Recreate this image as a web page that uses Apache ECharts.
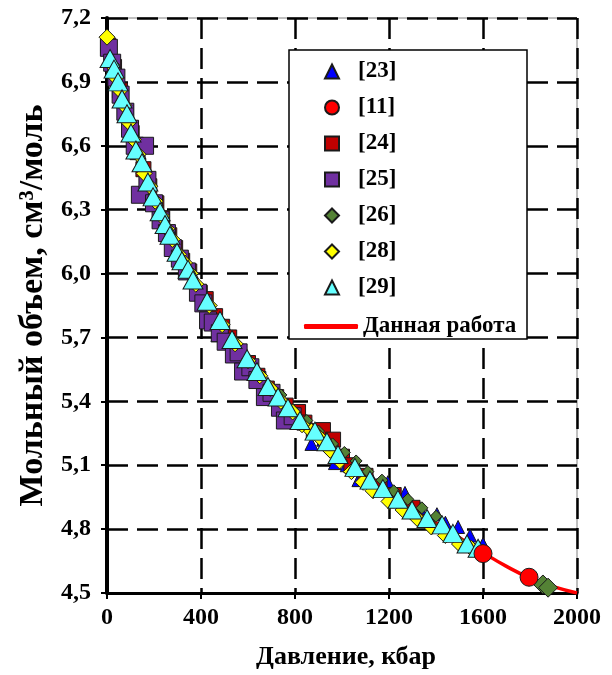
<!DOCTYPE html>
<html><head><meta charset="utf-8">
<script src="https://cdn.jsdelivr.net/npm/echarts@6/dist/echarts.min.js"></script>
<style>html,body{margin:0;padding:0;background:#fff}#c{width:612px;height:675px}</style>
</head><body><div id="c"></div>
<script>
// ---- axis ticks ----
const xTicks = [0, 400, 800, 1200, 1600, 2000];
const yTicks = [4.5, 4.8, 5.1, 5.4, 5.7, 6.0, 6.3, 6.6, 6.9, 7.2];

// ---- series names ----
const names = ['[23]', '[11]', '[24]', '[25]', '[26]', '[28]', '[29]', 'Данная работа'];

// [23] blue triangles
const s23P = [0, 470, 870, 920, 970, 1020, 1070, 1120, 1195, 1268, 1330, 1404, 1440, 1494, 1545, 1600];
const s23V = [7.08, 5.71, 5.20, 5.22, 5.11, 5.10, 5.03, 5.05, 5.02, 4.97, 4.90, 4.87, 4.83, 4.81, 4.77, 4.73];

// [11] red circles
const s11P = [1600, 1796];
const s11V = [4.685, 4.574];

// [24] dark red squares
const s24P = [5, 30, 55, 80, 105, 130, 155, 180, 210, 235, 265, 290, 320, 350, 395, 420, 460, 490, 520, 560, 600, 640, 680, 720, 760, 813, 840, 880, 919, 962, 1000, 1040, 1100, 1160, 1220, 1300];
const s24V = [7.07, 6.97, 6.86, 6.76, 6.66, 6.57, 6.49, 6.41, 6.33, 6.26, 6.18, 6.12, 6.06, 6.01, 5.91, 5.88, 5.80, 5.75, 5.70, 5.63, 5.58, 5.52, 5.46, 5.42, 5.38, 5.35, 5.30, 5.26, 5.265, 5.22, 5.14, 5.10, 5.05, 5.00, 4.96, 4.90];

// [25] purple squares
const s25P = [8, 22, 40, 58, 78, 98, 118, 140, 162, 172, 200, 228, 255, 280, 310, 340, 387, 410, 430, 450, 480, 505, 540, 560, 579, 610, 640, 672, 700, 736, 757, 790];
const s25V = [7.06, 6.99, 6.92, 6.84, 6.76, 6.68, 6.60, 6.37, 6.60, 6.44, 6.33, 6.25, 6.19, 6.12, 6.07, 6.01, 5.91, 5.86, 5.78, 5.77, 5.72, 5.68, 5.62, 5.63, 5.54, 5.56, 5.50, 5.42, 5.44, 5.37, 5.31, 5.33];

// [26] green diamonds
const s26P = [740, 790, 850, 900, 960, 1010, 1060, 1110, 1170, 1220, 1280, 1340, 1400, 1855, 1877];
const s26V = [5.43, 5.36, 5.31, 5.26, 5.20, 5.16, 5.12, 5.07, 5.03, 4.98, 4.94, 4.90, 4.86, 4.54, 4.525];

// [28] yellow diamonds
const s28P = [0, 20, 38, 55, 72, 92, 112, 132, 158, 182, 205, 232, 255, 278, 305, 330, 355, 378, 435, 490, 545, 600, 650, 695, 740, 790, 830, 870, 905, 950, 990, 1040, 1090, 1132, 1200, 1260, 1320, 1380, 1440, 1500, 1550];
const s28V = [7.11, 6.98, 6.92, 6.86, 6.79, 6.71, 6.63, 6.56, 6.47, 6.41, 6.34, 6.27, 6.21, 6.16, 6.09, 6.05, 6.00, 5.95, 5.85, 5.76, 5.67, 5.59, 5.52, 5.46, 5.40, 5.35, 5.29, 5.26, 5.23, 5.17, 5.12, 5.07, 5.02, 4.98, 4.93, 4.89, 4.85, 4.81, 4.77, 4.73, 4.71];

// [29] cyan triangles
const s29P = [13, 30, 47, 64, 85, 102, 123, 149, 174, 196, 226, 247, 268, 298, 319, 345, 366, 426, 481, 532, 596, 638, 685, 728, 770, 821, 885, 936, 983, 1055, 1119, 1174, 1238, 1298, 1362, 1426, 1472, 1532, 1579];
const s29V = [7.01, 6.96, 6.90, 6.82, 6.75, 6.66, 6.58, 6.52, 6.43, 6.36, 6.29, 6.23, 6.18, 6.10, 6.06, 6.02, 5.97, 5.87, 5.78, 5.69, 5.60, 5.54, 5.47, 5.42, 5.37, 5.31, 5.26, 5.21, 5.15, 5.09, 5.03, 4.99, 4.94, 4.89, 4.85, 4.82, 4.78, 4.73, 4.71];

// Данная работа (red line)
const lineP = [0, 50, 100, 150, 200, 250, 300, 350, 400, 450, 500, 600, 700, 800, 900, 1000, 1100, 1200, 1300, 1400, 1500, 1600, 1700, 1800, 1900, 2000];
const lineV = [7.11, 6.89, 6.68, 6.51, 6.36, 6.22, 6.10, 6.01, 5.92, 5.83, 5.74, 5.595, 5.455, 5.335, 5.235, 5.135, 5.045, 4.965, 4.895, 4.83, 4.76, 4.69, 4.625, 4.57, 4.53, 4.50];

const zip = (a, b) => a.map((v, i) => [v, b[i]]);
const FONT = 'Liberation Serif';

const chart = echarts.init(document.getElementById('c'), null, {renderer: 'canvas'});

function scatter(name, P, V, symbol, size, color, z) {
  return {
    name, type: 'scatter', data: zip(P, V), symbol, symbolSize: size, z,
    itemStyle: {color, borderColor: '#1a1a1a', borderWidth: 1, opacity: 1},
    emphasis: {disabled: true}
  };
}

const option = {
  backgroundColor: '#fff',
  animation: false,
  grid: {left: 107, right: 35, top: 18, bottom: 79, show: true, borderColor: '#808080', borderWidth: 1},
  xAxis: {
    type: 'value', min: xTicks[0], max: xTicks[xTicks.length - 1], interval: 400,
    name: 'Давление, кбар', nameLocation: 'middle', nameGap: 51,
    nameTextStyle: {fontFamily: FONT, fontWeight: 'bold', fontSize: 26, color: '#000', padding: [0, 0, 0, 8]},
    axisLine: {onZero: false, lineStyle: {color: '#000', width: 3}},
    axisTick: {show: true, length: 6, lineStyle: {color: '#000', width: 2}},
    axisLabel: {fontFamily: FONT, fontWeight: 'bold', fontSize: 24, color: '#000', margin: 13,
      formatter: v => String(v)},
    splitLine: {show: true, lineStyle: {color: '#000', width: 2.5, type: [21, 9]}}
  },
  yAxis: {
    type: 'value', min: yTicks[0], max: yTicks[yTicks.length - 1], interval: 0.3,
    name: 'Мольный объем, см³/моль', nameLocation: 'middle', nameGap: 56, nameRotate: 90,
    nameTextStyle: {fontFamily: FONT, fontWeight: 'bold', fontSize: 34, color: '#000'},
    axisLine: {onZero: false, lineStyle: {color: '#000', width: 4}},
    axisTick: {show: true, length: 6, lineStyle: {color: '#000', width: 2}},
    axisLabel: {fontFamily: FONT, fontWeight: 'bold', fontSize: 24, color: '#000', margin: 16,
      formatter: v => v.toFixed(1).replace('.', ',')},
    splitLine: {show: true, lineStyle: {color: '#000', width: 2.5, type: [21, 9]}}
  },
  graphic: [{
    type: 'rect', z: 11, shape: {x: 289, y: 50, width: 238, height: 289},
    style: {fill: '#fff', stroke: '#000', lineWidth: 1.5}
  }],
  legend: [{
    data: names.slice(0, 7), orient: 'vertical', left: 319, top: 55, z: 12,
    itemWidth: 14, itemHeight: 14, itemGap: 13,
    textStyle: {fontFamily: FONT, fontWeight: 'bold', fontSize: 23, lineHeight: 23, color: '#000', padding: [0, 0, 0, 14]},
    selectedMode: false
  }, {
    data: [names[7]], orient: 'vertical', left: 299, top: 310, z: 12,
    icon: 'roundRect', itemWidth: 54, itemHeight: 5,
    textStyle: {fontFamily: FONT, fontWeight: 'bold', fontSize: 23, lineHeight: 23, color: '#000'},
    selectedMode: false
  }],
  series: [
    {name: names[7], type: 'line', data: zip(lineP, lineV), smooth: true, symbol: 'none', showSymbol: false, z: 2,
     lineStyle: {color: '#ff0000', width: 3.5}, itemStyle: {color: '#ff0000'}, emphasis: {disabled: true}},
    scatter(names[0], s23P, s23V, 'triangle', 13, '#0000ff', 3),
    scatter(names[2], s24P, s24V, 'rect', 15, '#c00000', 4),
    scatter(names[3], s25P, s25V, 'rect', 17, '#7030a0', 5),
    Object.assign(scatter(names[4], s26P, s26V, 'diamond', 12, '#548235', 6),
      {symbolSize: v => (v[0] > 1700 ? 19 : 12)}),
    scatter(names[5], s28P, s28V, 'diamond', 16, '#ffff00', 7),
    scatter(names[6], s29P, s29V, 'triangle', [20, 18], '#66ffff', 8),
    scatter(names[1], s11P, s11V, 'circle', 18, '#ff0000', 9)
  ]
};
chart.setOption(option);
</script>
</body></html>
